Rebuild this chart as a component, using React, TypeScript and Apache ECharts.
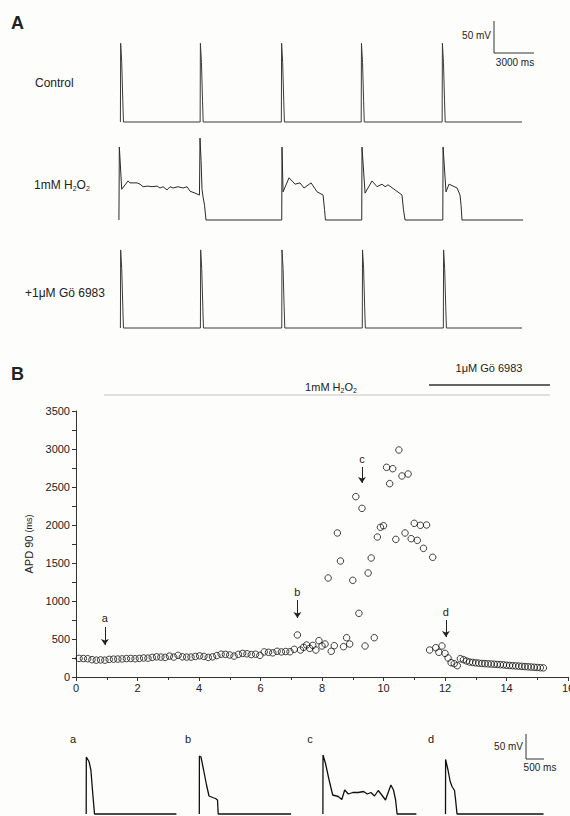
import { useEffect, useRef } from "react";
import * as echarts from "echarts";

const FONT = '"Liberation Sans", Arial, Helvetica, sans-serif';
const INK = "#222";

// ---------- Panel A traces: [time (s), membrane potential (mV)] ----------
const controlTrace: number[][] = [
  [0.18, -83], [0.2, 40], [0.28, 10], [0.36, -50], [0.41, -83],
  [6.16, -83], [6.18, 40], [6.26, 10], [6.34, -50], [6.39, -83],
  [12.25, -83], [12.27, 40], [12.35, 10], [12.43, -50], [12.48, -83],
  [18.24, -83], [18.26, 40], [18.34, 10], [18.42, -50], [18.47, -83],
  [24.31, -83], [24.33, 40], [24.41, 10], [24.49, -50], [24.54, -83],
  [30.3, -83],
];

const h2o2Trace: number[][] = [
  [0.07, -83], [0.1, 31], [0.28, -35], [0.75, -22], [0.9, -25], [1.13, -25], [1.43, -25],
  [1.65, -27], [1.88, -31], [2.25, -30], [2.55, -31], [2.93, -30], [3.15, -33], [3.38, -31],
  [3.68, -36], [3.9, -31], [4.13, -33], [4.5, -31], [4.88, -33], [5.18, -31], [5.4, -38],
  [5.78, -41], [6.11, -44], [6.15, 45], [6.23, 10], [6.3, -35], [6.38, -47], [6.49, -60],
  [6.6, -83], [12.28, -83], [12.3, 31], [12.38, -39], [12.83, -17], [13.28, -27], [13.65, -25],
  [13.95, -33], [14.48, -25], [14.93, -39], [15.38, -44], [15.49, -67], [15.56, -83],
  [18.28, -83], [18.3, 31], [18.53, -41], [19.05, -22], [19.43, -31], [19.8, -27], [20.03, -31],
  [20.25, -28], [20.78, -36], [21.3, -44], [21.41, -67], [21.53, -83],
  [24.36, -83], [24.38, 31], [24.6, -39], [24.83, -27], [25.13, -30], [25.43, -33], [25.65, -44],
  [25.73, -60], [25.8, -83], [30.38, -83],
];

const goTrace: number[][] = [
  [0.18, -83], [0.2, 39], [0.28, 10], [0.36, -50], [0.41, -83],
  [6.18, -83], [6.2, 39], [6.28, 10], [6.36, -50], [6.41, -83],
  [12.28, -83], [12.3, 39], [12.38, 10], [12.46, -50], [12.51, -83],
  [18.32, -83], [18.34, 39], [18.42, 10], [18.5, -50], [18.55, -83],
  [24.4, -83], [24.42, 39], [24.5, 10], [24.58, -50], [24.63, -83],
  [30.3, -83],
];

// ---------- Panel B: APD90 (ms) against time (min) ----------
const apdMinutes: number[] = [
  0.10, 0.24, 0.38, 0.52, 0.66, 0.80, 0.94, 1.08, 1.22, 1.36, 1.50, 1.64, 1.78, 1.92, 2.06, 2.20,
  2.34, 2.48, 2.62, 2.76, 2.90, 3.04, 3.18, 3.32, 3.46, 3.60, 3.74, 3.88, 4.02, 4.16, 4.30, 4.44,
  4.58, 4.72, 4.86, 5.00, 5.14, 5.28, 5.42, 5.56, 5.70, 5.84, 5.98, 6.12, 6.26, 6.40, 6.54, 6.68,
  6.82, 6.96,
  7.1, 7.2, 7.3, 7.4, 7.5, 7.6, 7.7, 7.8, 7.9, 8.0, 8.1, 8.2, 8.3, 8.4, 8.5, 8.6, 8.7, 8.8, 8.9,
  9.0, 9.1, 9.2, 9.3, 9.4, 9.5, 9.6, 9.7, 9.8, 9.9, 10.0, 10.1, 10.2, 10.3, 10.4, 10.5, 10.6,
  10.7, 10.8, 10.9, 11.0, 11.1, 11.2, 11.3, 11.4, 11.5, 11.6, 11.7, 11.8, 11.9, 12.0, 12.1,
  12.2, 12.3, 12.4,
  12.5, 12.6, 12.7, 12.8, 12.9, 13.0, 13.1, 13.2, 13.3, 13.4, 13.5, 13.6, 13.7, 13.8, 13.9,
  14.0, 14.1, 14.2, 14.3, 14.4, 14.5, 14.6, 14.7, 14.8, 14.9, 15.0, 15.1, 15.2,
];
const apdValues: number[] = [
  245, 243, 240, 228, 222, 225, 222, 232, 235, 236, 238, 242, 244, 240, 245, 250,
  248, 258, 265, 262, 258, 275, 262, 285, 265, 262, 262, 270, 278, 270, 258, 265,
  282, 300, 298, 290, 275, 298, 310, 305, 295, 300, 285, 330, 325, 318, 338, 330,
  335, 332,
  364, 553, 355, 390, 421, 377, 416, 355, 478, 408, 434, 1303, 338, 412, 1895, 1526, 399, 517, 434,
  1272, 2373, 838, 2219, 408, 1368, 1566, 517, 1842, 1970, 1990, 2759, 2544, 2741, 1811, 2987, 2645,
  1895, 2671, 1820, 2022, 1798, 1996, 1693, 2000, 355, 1575, 386, 325, 408, 311, 250,
  188, 175, 149,
  241, 228, 211, 197, 192, 186, 182, 178, 176, 173, 171, 168, 165, 162, 160,
  155, 152, 149, 146, 143, 140, 137, 134, 131, 128, 125, 122, 120,
];

// arrows marking the sampled beats a-d: [minute, APD at arrow start, APD at arrow tip]
const arrowNames = ["a", "b", "c", "d"];
const arrowMinute = [0.94, 7.2, 9.3, 12.03];
const arrowFrom = [658, 1013, 2763, 750];
const arrowTo = [421, 776, 2553, 526];

// ---------- Bottom traces a-d: [time (ms), mV] ----------
const traceA: number[][] = [
  [0, -83], [3, 31], [80, 22], [133, 5], [185, -41], [236, -83], [2562, -83],
];
const traceB: number[][] = [
  [0, -83], [3, 33], [48, 31], [122, 5], [205, -25], [276, -47], [381, -50], [463, -52],
  [517, -55], [537, -83], [2607, -83],
];
const traceC: number[][] = [
  [0, -83], [3, 35], [74, 18], [176, -15], [278, -45], [435, -48], [537, -54], [619, -35],
  [724, -43], [847, -40], [1003, -40], [1156, -38], [1261, -43], [1363, -40], [1466, -47],
  [1571, -36], [1673, -45], [1778, -55], [1931, -25], [2005, -35], [2065, -55], [2107, -83],
  [2655, -83],
];
const traceD: number[][] = [
  [0, -83], [3, 26], [71, 5], [133, -18], [185, -28], [256, -36], [287, -55], [327, -83],
  [2786, -83],
];

export default function App() {
  const ref = useRef<HTMLDivElement>(null);

  useEffect(() => {
    const chart = echarts.init(ref.current!, null, { renderer: "svg" });

    const aGrid = (top: number) => ({ left: 118, top, width: 426.67, height: 89.6 });
    const bGrid = (left: number) => ({ left, top: 750, width: 105.63, height: 65 });

    const grids = [
      aGrid(36.88),
      aGrid(134.88),
      aGrid(242.88),
      { left: 76, top: 411, width: 492, height: 266 },
      bGrid(86.2),
      bGrid(199.3),
      bGrid(322.9),
      bGrid(445.5),
    ];

    const hiddenX = (i: number, max: number) => ({
      gridIndex: i, type: "value", min: 0, max, show: false,
    });
    const hiddenY = (i: number, min: number, max: number) => ({
      gridIndex: i, type: "value", min, max, show: false,
    });

    const axisText = { color: INK, fontSize: 11, fontFamily: FONT, formatter: (v: number) => String(v) };

    const xAxes: any[] = [
      hiddenX(0, 32), hiddenX(1, 32), hiddenX(2, 32),
      {
        gridIndex: 3, type: "value", min: 0, max: 16, interval: 2,
        axisLine: { show: true, lineStyle: { color: "#333", width: 1 } },
        axisTick: { show: true, inside: false, length: 4, lineStyle: { color: "#333" } },
        minorTick: { show: true, splitNumber: 2, length: 3, lineStyle: { color: "#333" } },
        axisLabel: { ...axisText, margin: 5 },
        splitLine: { show: false },
      },
      hiddenX(4, 3000), hiddenX(5, 3000), hiddenX(6, 3000), hiddenX(7, 3000),
    ];
    const yAxes: any[] = [
      hiddenY(0, -90, 50), hiddenY(1, -90, 50), hiddenY(2, -90, 50),
      {
        gridIndex: 3, type: "value", min: 0, max: 3500, interval: 500,
        name: "{n|APD 90 }{u|(ms)}",
        nameLocation: "middle",
        nameGap: 36,
        nameTextStyle: {
          color: INK, fontFamily: FONT,
          rich: {
            n: { fontSize: 11, fontFamily: FONT, color: INK },
            u: { fontSize: 9, fontFamily: FONT, color: INK },
          },
        },
        axisLine: { show: true, lineStyle: { color: "#333", width: 1 } },
        axisTick: { show: true, inside: false, length: 4, lineStyle: { color: "#333" } },
        minorTick: { show: true, splitNumber: 2, length: 4, lineStyle: { color: "#333" } },
        axisLabel: { ...axisText, margin: 6 },
        splitLine: { show: false },
      },
      hiddenY(4, -85, 45), hiddenY(5, -85, 45), hiddenY(6, -85, 45), hiddenY(7, -85, 45),
    ];

    const traceSeries = (i: number, data: number[][], width: number, color: string) => ({
      type: "line", xAxisIndex: i, yAxisIndex: i, data, symbol: "none", showSymbol: false,
      silent: true, lineStyle: { color, width }, z: 2,
    });

    const scatterData = apdMinutes.map((m, i) => [m, apdValues[i]]);

    const txt = (
      text: string, x: number, y: number, size: number,
      align = "left", weight = "normal", extra: any = {}
    ) => ({
      type: "text", x, y, silent: true,
      style: {
        text, fill: INK, fontSize: size, fontFamily: FONT, fontWeight: weight,
        textAlign: align, textVerticalAlign: "middle", ...extra,
      },
    });
    const ln = (x1: number, y1: number, x2: number, y2: number, color = "#333", w = 1) => ({
      type: "line", silent: true, shape: { x1, y1, x2, y2 }, style: { stroke: color, lineWidth: w },
    });
    const subRich = { s: { fontSize: 7, fontFamily: FONT, fill: INK, padding: [6, 0, 0, 0] } };

    const option: any = {
      animation: false,
      backgroundColor: "#fdfdfb",
      grid: grids.map((g) => ({ ...g, containLabel: false, outerBoundsMode: "none" })),
      xAxis: xAxes,
      yAxis: yAxes,
      series: [
        traceSeries(0, controlTrace, 1, "#3a3a3a"),
        traceSeries(1, h2o2Trace, 1, "#2a2a2a"),
        traceSeries(2, goTrace, 1, "#3a3a3a"),
        {
          type: "scatter", xAxisIndex: 3, yAxisIndex: 3, data: scatterData,
          symbol: "circle", symbolSize: 6.5, silent: true,
          itemStyle: { color: "rgba(255,255,255,0)", borderColor: "#111", borderWidth: 1 },
          markLine: {
            silent: true, animation: false,
            symbol: ["none", "arrow"], symbolSize: 6,
            lineStyle: { color: "#222", width: 1, type: "solid" },
            label: {
              show: true, position: "start", formatter: "{b}", distance: 3,
              color: INK, fontSize: 11, fontFamily: FONT,
            },
            emphasis: { disabled: true },
            data: arrowNames.map((n, i) => [
              { coord: [arrowMinute[i], arrowFrom[i]], name: n },
              { coord: [arrowMinute[i], arrowTo[i]] },
            ]),
          },
        },
        traceSeries(4, traceA, 1.3, "#111"),
        traceSeries(5, traceB, 1.3, "#111"),
        traceSeries(6, traceC, 1.3, "#111"),
        traceSeries(7, traceD, 1.3, "#111"),
      ],
      graphic: [
        txt("A", 11, 23, 18, "left", "bold"),
        txt("B", 11, 374, 18, "left", "bold"),
        txt("Control", 35, 83, 12),
        txt("1mM H{s|2}O{s|2}", 34, 185, 12, "left", "normal", { rich: subRich }),
        txt("+1μM Gö 6983", 25, 293, 12),
        // panel A scale bar
        ln(494, 21, 494, 53),
        ln(494, 53, 534, 53),
        txt("50 mV", 491, 35, 10, "right"),
        txt("3000 ms", 515, 62, 10, "center"),
        // panel B drug bars
        txt("1μM Gö 6983", 489, 368, 11, "center"),
        ln(429, 385, 550, 385, "#333", 1.5),
        txt("1mM H{s|2}O{s|2}", 331, 387, 11, "center", "normal", { rich: subRich }),
        ln(104, 395, 550, 395, "#c4c4c4", 1),
        // bottom trace labels
        txt("a", 73, 739, 11, "center"),
        txt("b", 188, 739, 11, "center"),
        txt("c", 310, 739, 11, "center"),
        txt("d", 431, 739, 11, "center"),
        // bottom scale bar
        ln(526, 734, 526, 759),
        ln(526, 759, 544, 759),
        txt("50 mV", 523, 746, 10, "right"),
        txt("500 ms", 540, 767, 10, "center"),
      ],
    };

    chart.setOption(option);
    return () => chart.dispose();
  }, []);

  return (
    <div
      ref={ref}
      style={{ position: "absolute", left: 0, top: 0, width: 570, height: 816, background: "#fdfdfb" }}
    />
  );
}
